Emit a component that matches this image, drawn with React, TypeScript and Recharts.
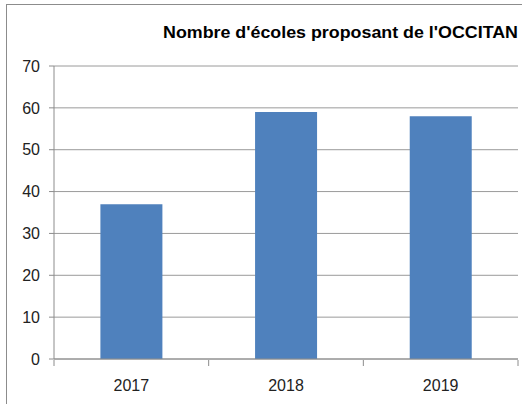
import { Bar, BarChart, CartesianGrid, XAxis, YAxis } from 'recharts';

const years = ['2017', '2018', '2019'];
const schools = [37, 59, 58];
const yTicks = [0, 10, 20, 30, 40, 50, 60, 70];
const edgeTicks = [0, 1, 2, 3];
const title = "Nombre d'écoles proposant de l'OCCITAN";

const data = years.map((year, i) => ({ year, value: schools[i], idx: i + 0.5 }));

export default function App() {
  return (
    <div style={{ position: 'relative', width: 522, height: 404, overflow: 'hidden', background: '#fff' }}>
      <style>{`body{margin:0}`}</style>
      <div
        style={{
          position: 'absolute',
          left: 6,
          top: 4,
          width: 600,
          height: 500,
          borderLeft: '1px solid #8c8c8c',
          borderTop: '1px solid #8c8c8c',
        }}
      />
      <BarChart
        width={522}
        height={404}
        data={data}
        margin={{ top: 66, right: 4, left: 0, bottom: 0 }}
        barCategoryGap="30%"
        style={{ position: 'absolute', left: 0, top: 0, fontFamily: 'Liberation Sans, Arial, sans-serif' }}
      >
        <text
          x={518}
          y={38}
          textAnchor="end"
          fontSize={17}
          fontWeight="bold"
          fill="#000"
          textLength={355}
          lengthAdjust="spacingAndGlyphs"
        >
          {title}
        </text>
        <CartesianGrid vertical={false} stroke="#9a9a9a" />
        <XAxis
          dataKey="year"
          height={1}
          tickLine={false}
          axisLine={{ stroke: '#8c8c8c' }}
          tickMargin={15}
          tick={{ fill: '#222', fontSize: 16 }}
        />
        {/* category boundary ticks, Excel style */}
        <XAxis
          xAxisId="edges"
          type="number"
          dataKey="idx"
          domain={[0, 3]}
          ticks={edgeTicks}
          height={44}
          tick={() => <g />}
          tickSize={6}
          axisLine={false}
          tickLine={{ stroke: '#8c8c8c' }}
        />
        <YAxis
          width={54}
          domain={[0, 70]}
          ticks={yTicks}
          interval={0}
          axisLine={{ stroke: '#8c8c8c' }}
          tickLine={{ stroke: '#8c8c8c' }}
          tickSize={5}
          tickMargin={9}
          tick={{ fill: '#222', fontSize: 16 }}
        />
        <Bar dataKey="value" fill="#4f81bd" isAnimationActive={false} />
      </BarChart>
    </div>
  );
}
